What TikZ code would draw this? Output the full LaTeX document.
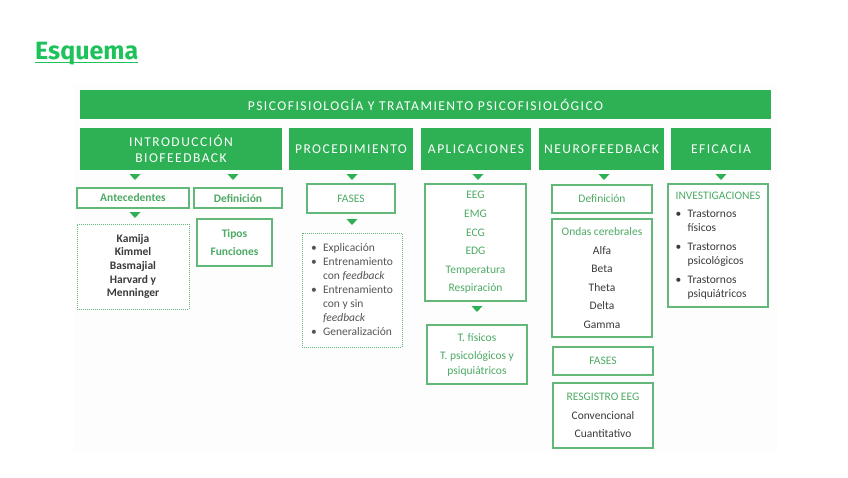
\documentclass[tikz,border=0pt]{standalone}
\usepackage{fontspec}
\setmainfont{Carlito}
\newfontfamily\hdfont[LetterSpace=11]{Carlito}
\newfontfamily\ttlfont{Fira Sans}
\definecolor{G}{HTML}{2DB154}
\definecolor{GB}{HTML}{62B878}
\definecolor{GT}{HTML}{4DAA64}
\definecolor{DK}{HTML}{3A3A3A}
\definecolor{GY}{HTML}{555555}
\definecolor{TT}{HTML}{1EC25A}
\definecolor{BGc}{HTML}{FDFDFD}
\newcommand\mybx[7]{%
  \pgfmathsetmacro\mybw{#4-#2}\pgfmathsetmacro\mybh{#5-#3}%
  \pgfmathsetmacro\mycx{(#2+#4)/2}\pgfmathsetmacro\mycy{(#3+#5)/2}%
  \node[#6, minimum width=\mybw pt, minimum height=\mybh pt] (#1) at (\mycx,\mycy) {#7};}
\newcommand\mytri[2]{\fill[G] (#1-5.5,#2-3) -- (#1+5.5,#2-3) -- (#1,#2+3) -- cycle;}
\newcommand\bul{\makebox[12pt][l]{\textbullet}}
\newcommand\ind{\hspace*{12pt}}
\begin{document}
\begin{tikzpicture}[x=1pt,y=-1pt,
  hdr/.style={fill=G, text=white, inner sep=0pt, align=center, font=\hdfont\fontsize{13.5}{15.5}\selectfont},
  sbox/.style={draw=GB, line width=1.1pt, fill=white, inner sep=0pt, align=center, text=GT, font=\fontsize{11.5}{18.6}\selectfont},
  dbox/.style={draw=GB, line width=0.9pt, dash pattern=on 1pt off 1pt, fill=white, inner sep=0pt, align=center}
]
\useasboundingbox (0,0) rectangle (848,477);
\fill[white] (0,0) rectangle (848,477);
\fill[BGc] (74,84) rectangle (778,452);

% title
\node[inner sep=0pt, anchor=base west, text=TT, font=\ttlfont\bfseries\fontsize{25}{25}\selectfont] (title) at (35,59) {Esquema};
\draw[TT, line width=1.8pt] ([yshift=-3.5pt]title.base west) -- ([yshift=-3.5pt]title.base east);

% headers
\mybx{hBan}{80}{90}{771}{119}{hdr}{PSICOFISIOLOGÍA Y TRATAMIENTO PSICOFISIOLÓGICO}
\mybx{hIntro}{80}{128}{282}{170}{hdr}{INTRODUCCIÓN\\BIOFEEDBACK}
\mybx{hProc}{289}{128}{413}{170}{hdr}{PROCEDIMIENTO}
\mybx{hApl}{421}{128}{531}{170}{hdr}{APLICACIONES}
\mybx{hNeu}{539}{128}{664}{170}{hdr}{NEUROFEEDBACK}
\mybx{hEfi}{671}{128}{771}{170}{hdr}{EFICACIA}

% triangles
\mytri{135}{177}\mytri{233}{177}\mytri{352}{177}\mytri{478}{177}\mytri{604}{177}\mytri{721}{177}
\mytri{135}{215}\mytri{352}{222}\mytri{477}{309}

% column 1
\mybx{ant}{77}{188}{189}{208}{sbox}{\bfseries Antecedentes}
\mybx{def1}{194}{188}{282}{208}{sbox}{\bfseries Definición}
\mybx{kam}{77}{224}{189}{309}{dbox, text=DK, font=\bfseries\fontsize{11.5}{13.7}\selectfont}{Kamija\\Kimmel\\Basmajial\\Harvard y\\Menninger}
\mybx{tipos}{197}{219}{272}{266}{sbox, font=\bfseries\fontsize{11.5}{18}\selectfont}{Tipos\\Funciones}

% procedimiento
\mybx{fases1}{307}{184}{395}{213}{sbox}{FASES}
\mybx{proc}{302}{233}{402}{347}{dbox, text=GY, align=left, font=\fontsize{11.5}{14}\selectfont}{\bul Explicación\\\bul Entrenamiento\\\ind con \textit{feedback}\\\bul Entrenamiento\\\ind con y sin\\\ind\textit{feedback}\\\bul Generalización}

% aplicaciones
\mybx{apl}{425}{184}{526}{301}{sbox}{EEG\\EMG\\ECG\\EDG\\Temperatura\\Respiración}
\mybx{tf}{427}{325}{527}{384}{sbox, font=\fontsize{11.5}{15}\selectfont}{T. físicos\\[3pt]T. psicológicos y\\psiquiátricos}

% neurofeedback
\mybx{def2}{552}{185}{652}{213}{sbox}{Definición}
\mybx{ondas}{552}{219}{652}{337}{sbox, text=DK}{{\color{GT}Ondas cerebrales}\\Alfa\\Beta\\Theta\\Delta\\Gamma}
\mybx{fases2}{553}{347}{653}{375}{sbox}{FASES}
\mybx{reg}{553}{383}{653}{448}{sbox, text=DK}{{\color{GT}RESGISTRO EEG}\\Convencional\\Cuantitativo}

% eficacia
\mybx{efi}{668}{184}{768}{307}{sbox, text=DK, align=left, font=\fontsize{11.5}{14}\selectfont}{{\color{GT}INVESTIGACIONES}\\[4pt]\bul Trastornos\\\ind físicos\\[5pt]\bul Trastornos\\\ind psicológicos\\[5pt]\bul Trastornos\\\ind psiquiátricos}
\end{tikzpicture}
\end{document}
